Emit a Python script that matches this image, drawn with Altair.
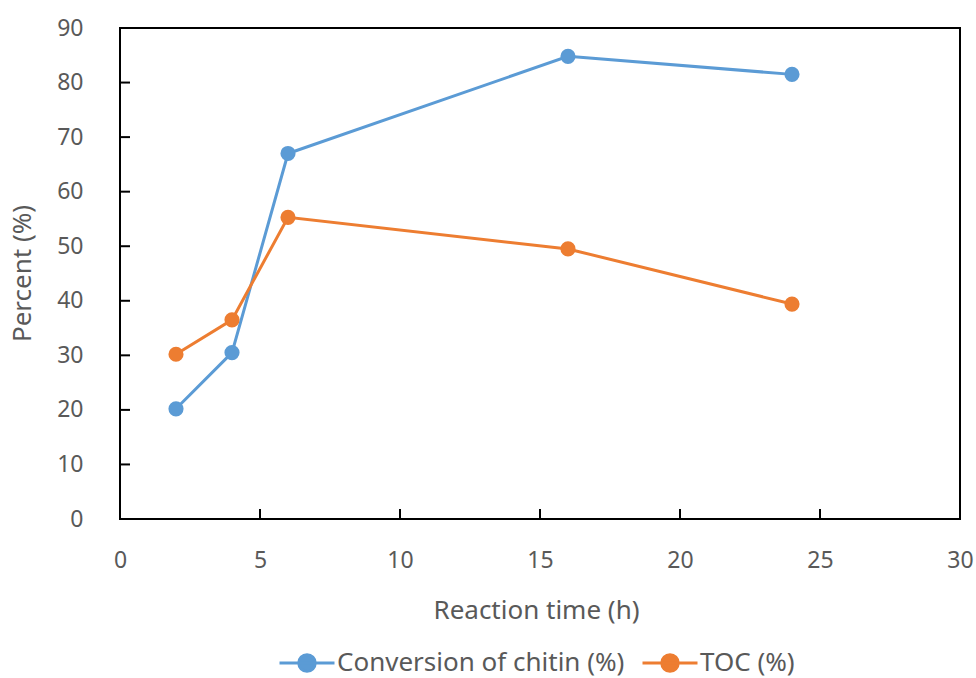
import altair as alt
import pandas as pd

hours = [2, 4, 6, 16, 24]
conversion = [20.2, 30.5, 67.0, 84.8, 81.5]
toc = [30.2, 36.5, 55.3, 49.5, 39.4]
series_names = ["Conversion of chitin (%)", "TOC (%)"]
colors = ["#5B9BD5", "#ED7D31"]
y_ticks = [0, 10, 20, 30, 40, 50, 60, 70, 80, 90]
x_ticks = [0, 5, 10, 15, 20, 25, 30]

rows = []
for h, v in zip(hours, conversion):
    rows.append({"time": h, "value": v, "series": series_names[0]})
for h, v in zip(hours, toc):
    rows.append({"time": h, "value": v, "series": series_names[1]})
df = pd.DataFrame(rows)

W, H = 840, 491
FONT = "Noto Sans"
GREY = "#595959"
LX, LY = 158, 620

xscale = alt.Scale(domain=[0, 30], nice=False)
yscale = alt.Scale(domain=[0, 90], nice=False)

legend_symbol = ("M-1,0L1,0M-0.3,0A0.3,0.3 0 1,1 0.3,0"
                 "A0.3,0.3 0 1,1 -0.3,0Z")

x_enc = alt.X("time:Q", scale=xscale,
              axis=alt.Axis(values=x_ticks, title="Reaction time (h)", ticks=False,
                            domain=False, grid=False, labelPadding=30, labelFlush=False,
                            labelFontSize=23, labelColor=GREY, labelFont=FONT,
                            titleFontSize=26, titleColor=GREY, titleFont=FONT,
                            titleFontWeight="normal", titleX=416, titleY=91,
                            titleBaseline="middle", titleAlign="center"))
y_enc = alt.Y("value:Q", scale=yscale,
              axis=alt.Axis(values=y_ticks, title="Percent (%)", ticks=False,
                            domain=False, grid=False, labelPadding=37, labelFlush=False,
                            labelFontSize=23, labelColor=GREY, labelFont=FONT,
                            titleFontSize=26, titleColor=GREY, titleFont=FONT,
                            titleFontWeight="normal", titleX=-98, titleY=245,
                            titleAngle=-90, titleBaseline="middle", titleAlign="center"))

common_legend = dict(title=None, orient="none", direction="horizontal",
                     legendX=LX, legendY=LY, symbolType=legend_symbol,
                     symbolSize=3025, symbolStrokeWidth=3, labelFontSize=26,
                     labelFont=FONT, labelColor=GREY, labelOffset=1,
                     columnPadding=16, labelLimit=500, padding=0, clipHeight=30)

color_enc = alt.Color("series:N",
                      scale=alt.Scale(domain=series_names, range=colors),
                      legend=alt.Legend(**common_legend))
fill_enc = alt.Fill("series:N",
                    scale=alt.Scale(domain=series_names, range=colors),
                    legend=alt.Legend(**common_legend))

lines = alt.Chart(df).mark_line(strokeWidth=3).encode(
    x=x_enc, y=y_enc, color=color_enc, detail="series:N")
points = alt.Chart(df).mark_circle(size=230, opacity=1).encode(
    x=alt.X("time:Q", scale=xscale), y=alt.Y("value:Q", scale=yscale),
    fill=fill_enc)

ytick_df = pd.DataFrame({"v": y_ticks})
xtick_df = pd.DataFrame({"t": x_ticks})
yt = alt.Chart(ytick_df).mark_rule(color="black", strokeWidth=2).encode(
    y=alt.Y("v:Q", scale=yscale), x=alt.value(0), x2=alt.value(10))
xt = alt.Chart(xtick_df).mark_rule(color="black", strokeWidth=2).encode(
    x=alt.X("t:Q", scale=xscale), y=alt.value(H - 10), y2=alt.value(H))

chart = alt.layer(yt, xt, lines, points).properties(
    width=W, height=H,
    autosize=alt.AutoSizeParams(type="none"),
    padding={"left": 120, "top": 28, "right": 16, "bottom": 159},
    background="white",
).configure_view(stroke="black", strokeWidth=2)

chart.save("out.html", embed_options={"renderer": "svg", "actions": False})
